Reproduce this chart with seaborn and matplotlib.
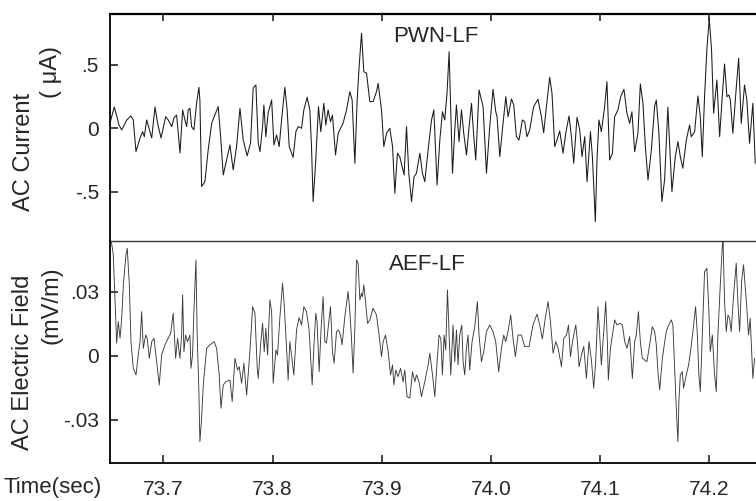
import seaborn as sns
import matplotlib.pyplot as plt

# PWN-LF trace (AC current, uA)
pwn_time = [
    73.6512, 73.6551, 73.6576, 73.6594, 73.6619, 73.6665, 73.6704, 73.6725, 73.6750, 73.6787,
    73.6811, 73.6826, 73.6848, 73.6869, 73.6894, 73.6924, 73.6948, 73.6979, 73.7022, 73.7045,
    73.7077, 73.7098, 73.7122, 73.7153, 73.7177, 73.7198, 73.7214, 73.7228, 73.7244, 73.7259,
    73.7280, 73.7305, 73.7326, 73.7335, 73.7351, 73.7381, 73.7411, 73.7443, 73.7466, 73.7503,
    73.7525, 73.7549, 73.7580, 73.7610, 73.7640, 73.7671, 73.7702, 73.7732, 73.7768, 73.7799,
    73.7823, 73.7848, 73.7869, 73.7885, 73.7909, 73.7921, 73.7939, 73.7960, 73.7992, 73.8013,
    73.8037, 73.8061, 73.8083, 73.8113, 73.8134, 73.8153, 73.8189, 73.8214, 73.8235, 73.8266,
    73.8287, 73.8317, 73.8342, 73.8357, 73.8372, 73.8396, 73.8421, 73.8442, 73.8470, 73.8488,
    73.8509, 73.8531, 73.8549, 73.8577, 73.8601, 73.8646, 73.8678, 73.8708, 73.8729, 73.8754,
    73.8775, 73.8793, 73.8815, 73.8836, 73.8861, 73.8891, 73.8921, 73.8952, 73.8967, 73.8998,
    73.9019, 73.9044, 73.9074, 73.9099, 73.9120, 73.9144, 73.9165, 73.9187, 73.9205, 73.9227,
    73.9248, 73.9273, 73.9296, 73.9318, 73.9349, 73.9373, 73.9394, 73.9425, 73.9456, 73.9477,
    73.9507, 73.9532, 73.9556, 73.9577, 73.9598, 73.9617, 73.9629, 73.9648, 73.9669, 73.9684,
    73.9708, 73.9730, 73.9751, 73.9776, 73.9800, 73.9822, 73.9843, 73.9861, 73.9891, 73.9928,
    73.9959, 73.9989, 74.0019, 74.0044, 74.0056, 74.0081, 74.0111, 74.0136, 74.0157, 74.0188,
    74.0209, 74.0233, 74.0257, 74.0288, 74.0309, 74.0330, 74.0355, 74.0391, 74.0431, 74.0462,
    74.0483, 74.0508, 74.0538, 74.0559, 74.0584, 74.0605, 74.0630, 74.0660, 74.0685, 74.0715,
    74.0737, 74.0758, 74.0788, 74.0813, 74.0834, 74.0859, 74.0880, 74.0911, 74.0929, 74.0956,
    74.0971, 74.0989, 74.1011, 74.1041, 74.1062, 74.1087, 74.1112, 74.1133, 74.1163, 74.1188,
    74.1218, 74.1245, 74.1270, 74.1291, 74.1316, 74.1346, 74.1368, 74.1392, 74.1414, 74.1438,
    74.1469, 74.1499, 74.1514, 74.1538, 74.1565, 74.1590, 74.1620, 74.1636, 74.1657, 74.1688,
    74.1712, 74.1734, 74.1757, 74.1789, 74.1819, 74.1834, 74.1865, 74.1895, 74.1917, 74.1935,
    74.1956, 74.1977, 74.1999, 74.2020, 74.2039, 74.2069, 74.2094, 74.2118, 74.2139, 74.2161,
    74.2179, 74.2192, 74.2215, 74.2247, 74.2268, 74.2292, 74.2322, 74.2343, 74.2368, 74.2398,
    74.2420,
]
pwn_current = [
    0.042, 0.167, 0.089, 0.026, -0.013, 0.065, 0.097, 0.065, -0.183, -0.076,
    -0.027, -0.066, 0.065, 0.000, -0.076, 0.167, 0.039, -0.076, 0.091, 0.065,
    0.013, 0.081, 0.104, -0.194, 0.144, 0.065, 0.013, 0.144, 0.157, 0.013,
    -0.013, 0.196, 0.322, 0.222, -0.458, -0.419, -0.170, 0.039, 0.091, 0.170,
    -0.066, -0.367, -0.249, -0.131, -0.327, -0.144, 0.157, -0.092, -0.217, -0.115,
    0.316, 0.340, -0.115, -0.184, 0.013, 0.183, -0.066, 0.120, 0.222, -0.131,
    -0.053, -0.144, 0.065, 0.322, 0.144, -0.144, -0.228, -0.027, 0.013, 0.000,
    0.144, 0.243, 0.144, -0.144, -0.576, -0.249, 0.170, -0.027, 0.196, 0.026,
    0.144, 0.052, 0.104, -0.210, -0.039, 0.039, 0.144, 0.287, 0.222, -0.275,
    0.222, 0.484, 0.746, 0.444, 0.432, 0.209, 0.209, 0.287, 0.353, 0.144,
    -0.144, -0.039, 0.000, -0.144, -0.510, -0.196, -0.223, -0.301, -0.367, 0.013,
    -0.353, -0.576, -0.380, -0.353, -0.196, -0.353, -0.419, -0.170, 0.065, 0.144,
    -0.445, -0.092, 0.130, 0.065, 0.275, 0.601, 0.222, -0.353, -0.013, 0.183,
    -0.105, 0.144, -0.039, -0.210, 0.013, 0.196, -0.066, -0.249, 0.301, 0.170,
    -0.353, 0.013, 0.306, 0.130, 0.091, -0.223, 0.039, 0.248, 0.091, 0.230,
    0.183, -0.066, -0.092, 0.065, 0.052, -0.066, -0.013, 0.170, 0.228, 0.091,
    -0.035, 0.170, 0.400, 0.275, -0.144, -0.092, -0.021, -0.196, -0.039, 0.097,
    -0.066, -0.275, 0.086, -0.013, -0.223, -0.066, -0.419, -0.027, -0.223, -0.733,
    -0.249, 0.065, -0.027, 0.170, 0.366, -0.249, -0.196, 0.091, 0.144, 0.248,
    0.306, 0.118, 0.039, 0.130, -0.184, -0.039, 0.348, 0.196, -0.144, -0.406,
    -0.170, 0.175, 0.222, -0.039, -0.576, -0.406, 0.165, -0.118, -0.498, -0.223,
    -0.105, -0.223, -0.314, -0.092, 0.026, -0.066, -0.027, 0.254, 0.091, -0.223,
    0.248, 0.615, 0.863, 0.615, 0.118, 0.379, -0.066, 0.248, 0.505, 0.248,
    0.261, 0.222, -0.039, 0.327, 0.549, 0.039, 0.340, 0.222, -0.118, 0.196,
    -0.275,
]

# AEF-LF trace (AC electric field, mV/m)
aef_time = [
    73.6512, 73.6542, 73.6558, 73.6573, 73.6588, 73.6604, 73.6619, 73.6634, 73.6658, 73.6670,
    73.6689, 73.6704, 73.6725, 73.6750, 73.6771, 73.6787, 73.6802, 73.6817, 73.6839, 73.6853,
    73.6872, 73.6894, 73.6915, 73.6939, 73.6963, 73.6985, 73.7015, 73.7045, 73.7067, 73.7091,
    73.7113, 73.7131, 73.7152, 73.7168, 73.7177, 73.7189, 73.7204, 73.7222, 73.7244, 73.7253,
    73.7268, 73.7280, 73.7299, 73.7310, 73.7326, 73.7335, 73.7351, 73.7366, 73.7397, 73.7427,
    73.7466, 73.7488, 73.7512, 73.7528, 73.7549, 73.7573, 73.7610, 73.7631, 73.7656, 73.7680,
    73.7695, 73.7717, 73.7738, 73.7763, 73.7793, 73.7818, 73.7839, 73.7860, 73.7869, 73.7891,
    73.7909, 73.7924, 73.7939, 73.7955, 73.7976, 73.7992, 73.8006, 73.8031, 73.8046, 73.8067,
    73.8092, 73.8107, 73.8129, 73.8143, 73.8159, 73.8174, 73.8195, 73.8220, 73.8244, 73.8266,
    73.8287, 73.8311, 73.8335, 73.8351, 73.8363, 73.8378, 73.8396, 73.8408, 73.8427, 73.8445,
    73.8463, 73.8479, 73.8494, 73.8509, 73.8531, 73.8549, 73.8564, 73.8586, 73.8604, 73.8623,
    73.8637, 73.8662, 73.8692, 73.8708, 73.8723, 73.8738, 73.8754, 73.8769, 73.8784, 73.8800,
    73.8815, 73.8824, 73.8836, 73.8852, 73.8870, 73.8891, 73.8921, 73.8952, 73.8976, 73.8998,
    73.9013, 73.9035, 73.9059, 73.9081, 73.9099, 73.9111, 73.9129, 73.9150, 73.9172, 73.9196,
    73.9211, 73.9232, 73.9257, 73.9282, 73.9303, 73.9318, 73.9342, 73.9364, 73.9394, 73.9425,
    73.9440, 73.9465, 73.9486, 73.9507, 73.9525, 73.9541, 73.9556, 73.9571, 73.9586, 73.9602,
    73.9617, 73.9632, 73.9653, 73.9669, 73.9684, 73.9699, 73.9714, 73.9733, 73.9745, 73.9760,
    73.9776, 73.9790, 73.9806, 73.9827, 73.9852, 73.9876, 73.9891, 73.9913, 73.9934, 73.9959,
    73.9989, 74.0019, 74.0044, 74.0071, 74.0096, 74.0117, 74.0135, 74.0156, 74.0181, 74.0202,
    74.0224, 74.0248, 74.0279, 74.0309, 74.0349, 74.0385, 74.0422, 74.0447, 74.0471, 74.0493,
    74.0523, 74.0545, 74.0569, 74.0594, 74.0615, 74.0646, 74.0667, 74.0692, 74.0710, 74.0728,
    74.0752, 74.0777, 74.0792, 74.0807, 74.0829, 74.0850, 74.0874, 74.0898, 74.0920, 74.0941,
    74.0959, 74.0980, 74.0996, 74.1011, 74.1035, 74.1051, 74.1066, 74.1075, 74.1094, 74.1112,
    74.1133, 74.1154, 74.1179, 74.1204, 74.1225, 74.1246, 74.1270, 74.1295, 74.1316, 74.1331,
    74.1350, 74.1368, 74.1386, 74.1407, 74.1428, 74.1453, 74.1477, 74.1499, 74.1514, 74.1529,
    74.1545, 74.1570, 74.1591, 74.1606, 74.1627, 74.1652, 74.1666, 74.1682, 74.1697, 74.1712,
    74.1721, 74.1734, 74.1752, 74.1764, 74.1789, 74.1810, 74.1835, 74.1856, 74.1874, 74.1890,
    74.1904, 74.1917, 74.1935, 74.1956, 74.1977, 74.1996, 74.2008, 74.2027, 74.2048, 74.2063,
    74.2078, 74.2100, 74.2124, 74.2139, 74.2155, 74.2170, 74.2185, 74.2200, 74.2222, 74.2246,
    74.2261, 74.2277, 74.2295, 74.2313, 74.2329, 74.2343, 74.2359, 74.2374, 74.2392, 74.2398,
    74.2414,
]
aef_field = [
    0.0580, 0.0474, 0.0255, 0.0060, 0.0161, 0.0083, 0.0177, 0.0333, 0.0474, 0.0505,
    0.0333, 0.0067, -0.0058, -0.0089, 0.0005, 0.0067, 0.0208, 0.0036, 0.0098, 0.0083,
    -0.0011, 0.0067, 0.0083, -0.0027, -0.0136, 0.0005, 0.0052, 0.0083, 0.0106, 0.0200,
    -0.0011, 0.0083, -0.0011, 0.0098, 0.0286, 0.0020, 0.0098, 0.0067, 0.0098, -0.0058,
    0.0005, 0.0208, 0.0450, 0.0098, -0.0167, -0.0402, -0.0292, -0.0136, 0.0036, 0.0052,
    0.0067, 0.0036, -0.0089, -0.0245, -0.0136, -0.0121, -0.0113, -0.0214, -0.0011, -0.0066,
    -0.0050, -0.0128, -0.0034, -0.0183, 0.0020, 0.0231, 0.0200, -0.0058, -0.0105, 0.0052,
    0.0153, 0.0020, 0.0130, 0.0005, 0.0263, 0.0208, -0.0128, 0.0028, 0.0005, 0.0177,
    0.0341, 0.0239, 0.0036, -0.0113, 0.0067, 0.0005, -0.0089, 0.0122, 0.0180, 0.0145,
    0.0231, 0.0208, 0.0122, -0.0027, -0.0136, 0.0036, 0.0200, 0.0161, -0.0074, 0.0130,
    0.0278, 0.0067, 0.0060, 0.0130, 0.0231, 0.0020, -0.0034, 0.0114, 0.0122, 0.0098,
    0.0052, 0.0184, 0.0302, 0.0208, 0.0083, -0.0081, 0.0130, 0.0450, 0.0435, 0.0263,
    0.0294, 0.0278, 0.0333, 0.0255, 0.0153, 0.0169, 0.0224, 0.0192, 0.0098, -0.0003,
    0.0067, 0.0098, 0.0020, -0.0089, -0.0042, -0.0136, -0.0066, -0.0097, -0.0058, -0.0121,
    -0.0066, -0.0191, -0.0198, -0.0074, -0.0121, -0.0089, -0.0121, -0.0191, -0.0121, -0.0042,
    0.0013, -0.0089, -0.0191, -0.0027, 0.0098, 0.0083, -0.0089, 0.0098, 0.0028, 0.0310,
    0.0098, -0.0089, 0.0145, -0.0027, 0.0122, -0.0042, 0.0098, 0.0145, -0.0027, -0.0089,
    0.0036, 0.0098, -0.0066, 0.0067, 0.0137, 0.0255, 0.0098, -0.0027, 0.0020, 0.0114,
    0.0145, 0.0114, 0.0067, -0.0074, 0.0036, 0.0098, 0.0067, 0.0114, 0.0192, 0.0083,
    -0.0003, 0.0098, 0.0098, 0.0044, 0.0044, 0.0145, 0.0196, 0.0145, 0.0080, 0.0161,
    0.0255, 0.0161, 0.0013, 0.0067, 0.0036, -0.0050, 0.0083, 0.0098, 0.0145, -0.0003,
    0.0083, 0.0145, 0.0067, -0.0050, 0.0005, 0.0044, -0.0105, 0.0067, -0.0019, -0.0151,
    -0.0027, 0.0231, 0.0098, -0.0042, 0.0130, 0.0255, 0.0067, -0.0113, 0.0036, 0.0098,
    0.0169, 0.0145, 0.0153, 0.0145, 0.0067, 0.0036, 0.0091, -0.0105, 0.0067, 0.0098,
    0.0208, 0.0067, -0.0011, -0.0019, -0.0027, 0.0052, 0.0137, 0.0114, 0.0052, -0.0074,
    -0.0159, -0.0011, 0.0067, 0.0114, 0.0145, 0.0169, 0.0145, -0.0058, -0.0245, -0.0402,
    -0.0214, -0.0089, -0.0074, -0.0151, -0.0089, -0.0042, 0.0052, 0.0145, 0.0231, 0.0098,
    -0.0089, -0.0167, 0.0098, 0.0395, 0.0411, 0.0208, 0.0020, 0.0098, -0.0089, -0.0167,
    0.0098, 0.0333, 0.0570, 0.0255, 0.0114, 0.0192, 0.0177, 0.0114, 0.0286, 0.0435,
    0.0255, 0.0114, 0.0348, 0.0427, 0.0318, 0.0224, 0.0098, 0.0177, -0.0027, -0.0105,
    -0.0011,
]

time_ticks = [73.7, 73.8, 73.9, 74.0, 74.1, 74.2]
time_ticklabels = ['73.7', '73.8', '73.9', '74.0', '74.1', '74.2']
cur_ticks = [0.5, 0.0, -0.5]
cur_ticklabels = ['.5', '0', '-.5']
fld_ticks = [0.03, 0.0, -0.03]
fld_ticklabels = ['.03', '0', '-.03']

sns.set_style('ticks')
plt.rcParams['font.family'] = ['Liberation Sans', 'DejaVu Sans']

fig = plt.figure(figsize=(7.56, 5.01), dpi=100)
W, H = 756.0, 501.0
ax1 = fig.add_axes([110 / W, 1 - 241 / H, 646 / W, 227 / H])
ax2 = fig.add_axes([110 / W, 1 - 463 / H, 646 / W, 222 / H])

sns.lineplot(x=pwn_time, y=pwn_current, ax=ax1, color='#1a1a1a', linewidth=0.75,
             estimator=None, sort=False)
sns.lineplot(x=aef_time, y=aef_field, ax=ax2, color='#3a3a3a', linewidth=0.65,
             estimator=None, sort=False)

xlim = (73.6512, 74.2427)
for ax in (ax1, ax2):
    ax.set_xlim(*xlim)
    ax.set_xlabel('')
    ax.set_ylabel('')
    ax.spines['right'].set_visible(False)
    ax.spines['left'].set_linewidth(1.3)
    ax.spines['left'].set_color('black')

ax1.set_ylim(-0.885, 0.897)
ax2.set_ylim(-0.0502, 0.0539)

# top panel: ticks on the top frame, no labels
ax1.set_xticks(time_ticks)
ax1.xaxis.set_ticks_position('top')
ax1.tick_params(axis='x', direction='in', length=5, width=1.2, labeltop=False, labelbottom=False)
ax1.spines['top'].set_linewidth(1.6)
ax1.spines['top'].set_color('black')
ax1.spines['bottom'].set_visible(False)
ax1.set_yticks(cur_ticks)
ax1.set_yticklabels(cur_ticklabels)
ax1.tick_params(axis='y', direction='in', length=6, width=1.2, pad=8, labelsize=15)

# bottom panel: its top frame is the divider between the two traces
ax2.spines['top'].set_linewidth(1.0)
ax2.spines['top'].set_color('#333333')
ax2.spines['bottom'].set_linewidth(1.3)
ax2.spines['bottom'].set_color('black')
ax2.set_xticks(time_ticks)
ax2.set_xticklabels(time_ticklabels)
ax2.tick_params(axis='x', direction='in', length=6, width=1.2, pad=12, labelsize=15)
ax2.set_yticks(fld_ticks)
ax2.set_yticklabels(fld_ticklabels)
ax2.tick_params(axis='y', direction='in', length=6, width=1.2, pad=8, labelsize=15)

ax1.text(0.5046, 0.899, 'PWN-LF', transform=ax1.transAxes, ha='center', va='center', fontsize=16)
ax2.text(0.491, 0.892, 'AEF-LF', transform=ax2.transAxes, ha='center', va='center', fontsize=16)

fig.text(24 / W, 1 - 152 / H, 'AC Current', rotation=90, ha='center', va='center', fontsize=17)
fig.text(51 / W, 1 - 72 / H, '( μA)', rotation=90, ha='center', va='center', fontsize=17)
fig.text(23 / W, 1 - 362 / H, 'AC Electric Field', rotation=90, ha='center', va='center', fontsize=17)
fig.text(52 / W, 1 - 305 / H, '(mV/m)', rotation=90, ha='center', va='center', fontsize=17)
fig.text(3 / W, 1 - 487 / H, 'Time(sec)', ha='left', va='center', fontsize=16)

fig.savefig('out.png', dpi=100)
